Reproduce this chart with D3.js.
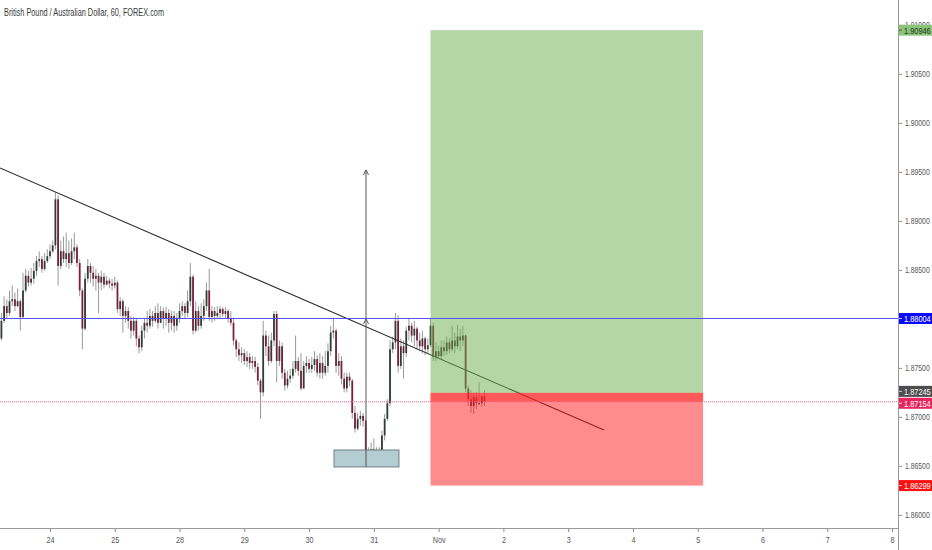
<!DOCTYPE html>
<html>
<head>
<meta charset="utf-8">
<script src="https://cdn.jsdelivr.net/npm/d3@7"></script>
<style>
  html, body { margin: 0; padding: 0; background: #fff; }
  svg { display: block; font-family: 'Liberation Sans', Arial, sans-serif; }
</style>
</head>
<body>
<svg id="chart" width="932" height="550"></svg>
<script>
// ---- data ----
const title = 'British Pound / Australian Dollar, 60, FOREX.com';
const dayLabels = ['24', '25', '28', '29', '30', '31', 'Nov', '2', '3', '4', '5', '6', '7', '8'];
const priceTicks = [1.86, 1.865, 1.87, 1.875, 1.88, 1.885, 1.89, 1.895, 1.9, 1.905, 1.91];

// hourly bars, first bar = Oct 23 05:00 (hours relative to Oct 24 00:00)
const firstBarHour = -19;
const firstOpen = 1.8788;
const closes = [
  1.8780, 1.8798, 1.8813, 1.8806, 1.8818, 1.8820, 1.8813, 1.8818, 1.8802, 1.8829,
  1.8844, 1.8837, 1.8841, 1.8849, 1.8859, 1.8861, 1.8851, 1.8859, 1.8864, 1.8869,
  1.8875, 1.8922, 1.8854, 1.8869, 1.8861, 1.8867, 1.8857, 1.8869, 1.8873, 1.8857,
  1.8829, 1.8790, 1.8841, 1.8854, 1.8847, 1.8841, 1.8844, 1.8837, 1.8843, 1.8835,
  1.8839, 1.8836, 1.8834, 1.8837, 1.8810, 1.8818, 1.8803, 1.8808, 1.8798, 1.8788,
  1.8798, 1.8780, 1.8771, 1.8788, 1.8796, 1.8793, 1.8803, 1.8798, 1.8806, 1.8796,
  1.8808, 1.8800, 1.8806, 1.8796, 1.8803, 1.8793, 1.8800, 1.8808, 1.8813, 1.8806,
  1.8818, 1.8843, 1.8788, 1.8808, 1.8793, 1.8803, 1.8813, 1.8829, 1.8802, 1.8808,
  1.8803, 1.8806, 1.8810, 1.8805, 1.8808, 1.8800, 1.8796, 1.8778, 1.8769, 1.8763,
  1.8765, 1.8757, 1.8761, 1.8755, 1.8757, 1.8751, 1.8737, 1.8725, 1.8783, 1.8772,
  1.8757, 1.8778, 1.8805, 1.8757, 1.8772, 1.8745, 1.8732, 1.8739, 1.8742, 1.8749,
  1.8757, 1.8747, 1.8729, 1.8752, 1.8755, 1.8749, 1.8753, 1.8759, 1.8745, 1.8755,
  1.8745, 1.8752, 1.8767, 1.8786, 1.8788, 1.8752, 1.8757, 1.8739, 1.8729, 1.8741,
  1.8737, 1.8704, 1.8688, 1.8698, 1.8701, 1.8696, 1.8665, 1.8657, 1.8667, 1.8663,
  1.8659, 1.8665, 1.8681, 1.8698, 1.8714, 1.8769, 1.8776, 1.8798, 1.8752, 1.8772,
  1.8765, 1.8788, 1.8793, 1.8783, 1.8790, 1.8778, 1.8772, 1.8780, 1.8769, 1.8773,
  1.8793, 1.8761, 1.8767, 1.8762, 1.8771, 1.8767, 1.8776, 1.8769, 1.8778, 1.8772,
  1.8782, 1.8778, 1.8783, 1.8729, 1.8718, 1.8711, 1.8720, 1.8714, 1.8714, 1.8721,
  1.87154,
];
const highs = [
  1.8800, 1.8806, 1.8823, 1.8820, 1.8829, 1.8834, 1.8827, 1.8831, 1.8820, 1.8847,
  1.8851, 1.8849, 1.8852, 1.8857, 1.8864, 1.8869, 1.8864, 1.8867, 1.8871, 1.8876,
  1.8880, 1.8929, 1.8926, 1.8880, 1.8884, 1.8888, 1.8880, 1.8882, 1.8888, 1.8876,
  1.8861, 1.8831, 1.8847, 1.8861, 1.8857, 1.8854, 1.8851, 1.8847, 1.8849, 1.8847,
  1.8844, 1.8842, 1.8841, 1.8843, 1.8839, 1.8822, 1.8820, 1.8813, 1.8812, 1.8803,
  1.8802, 1.8800, 1.8783, 1.8793, 1.8800, 1.8808, 1.8810, 1.8808, 1.8813, 1.8816,
  1.8813, 1.8812, 1.8812, 1.8810, 1.8808, 1.8808, 1.8806, 1.8816, 1.8818, 1.8816,
  1.8829, 1.8857, 1.8845, 1.8818, 1.8813, 1.8816, 1.8820, 1.8837, 1.8851, 1.8813,
  1.8812, 1.8813, 1.8813, 1.8812, 1.8812, 1.8810, 1.8808, 1.8800, 1.8780, 1.8776,
  1.8771, 1.8769, 1.8767, 1.8765, 1.8762, 1.8761, 1.8755, 1.8739, 1.8798, 1.8788,
  1.8783, 1.8786, 1.8808, 1.8808, 1.8778, 1.8776, 1.8749, 1.8747, 1.8749, 1.8757,
  1.8783, 1.8761, 1.8765, 1.8757, 1.8762, 1.8759, 1.8761, 1.8767, 1.8763, 1.8765,
  1.8762, 1.8767, 1.8775, 1.8793, 1.8800, 1.8790, 1.8765, 1.8762, 1.8745, 1.8745,
  1.8745, 1.8739, 1.8711, 1.8704, 1.8706, 1.8704, 1.8698, 1.8669, 1.8674, 1.8678,
  1.8669, 1.8669, 1.8686, 1.8703, 1.8718, 1.8778, 1.8782, 1.8806, 1.8804, 1.8780,
  1.8778, 1.8792, 1.8800, 1.8796, 1.8798, 1.8792, 1.8786, 1.8788, 1.8782, 1.8780,
  1.8800, 1.8796, 1.8776, 1.8773, 1.8778, 1.8778, 1.8782, 1.8780, 1.8793, 1.8786,
  1.8794, 1.8790, 1.8793, 1.8784, 1.8732, 1.8727, 1.8725, 1.8725, 1.8735, 1.8722,
  1.8727,
];
const lows = [
  1.8772, 1.8778, 1.8796, 1.8800, 1.8803, 1.8813, 1.8808, 1.8812, 1.8788, 1.8800,
  1.8827, 1.8833, 1.8834, 1.8836, 1.8844, 1.8853, 1.8847, 1.8849, 1.8857, 1.8861,
  1.8867, 1.8871, 1.8834, 1.8851, 1.8857, 1.8853, 1.8851, 1.8855, 1.8861, 1.8853,
  1.8823, 1.8769, 1.8788, 1.8837, 1.8837, 1.8833, 1.8829, 1.8806, 1.8829, 1.8831,
  1.8834, 1.8831, 1.8829, 1.8831, 1.8806, 1.8803, 1.8786, 1.8796, 1.8790, 1.8780,
  1.8783, 1.8772, 1.8765, 1.8767, 1.8780, 1.8786, 1.8790, 1.8792, 1.8796, 1.8790,
  1.8796, 1.8790, 1.8793, 1.8786, 1.8788, 1.8786, 1.8788, 1.8796, 1.8803, 1.8800,
  1.8802, 1.8813, 1.8784, 1.8786, 1.8788, 1.8790, 1.8798, 1.8808, 1.8798, 1.8796,
  1.8798, 1.8800, 1.8800, 1.8802, 1.8800, 1.8796, 1.8793, 1.8773, 1.8761, 1.8757,
  1.8755, 1.8753, 1.8751, 1.8749, 1.8749, 1.8745, 1.8732, 1.8698, 1.8721, 1.8762,
  1.8752, 1.8755, 1.8772, 1.8735, 1.8752, 1.8739, 1.8727, 1.8729, 1.8735, 1.8739,
  1.8745, 1.8742, 1.8727, 1.8729, 1.8745, 1.8745, 1.8745, 1.8747, 1.8741, 1.8739,
  1.8739, 1.8742, 1.8745, 1.8762, 1.8780, 1.8745, 1.8742, 1.8733, 1.8725, 1.8725,
  1.8731, 1.8698, 1.8684, 1.8686, 1.8691, 1.8690, 1.8659, 1.8653, 1.8655, 1.8657,
  1.8651, 1.8653, 1.8660, 1.8676, 1.8696, 1.8711, 1.8765, 1.8769, 1.8745, 1.8749,
  1.8739, 1.8761, 1.8778, 1.8776, 1.8772, 1.8769, 1.8767, 1.8765, 1.8763, 1.8765,
  1.8771, 1.8757, 1.8757, 1.8759, 1.8759, 1.8762, 1.8763, 1.8765, 1.8767, 1.8765,
  1.8769, 1.8767, 1.8772, 1.8725, 1.8711, 1.8704, 1.8703, 1.8708, 1.8712, 1.8710,
  1.8711,
];

// drawings (time in days from Oct 24 00:00, prices)
const resistance = 1.88004;
const lastPrice = 1.87154;
const position = { start: 5.875, end: 10.083, entry: 1.87245, target: 1.90946, stop: 1.86299 };
const trendLine = [[-0.772, 1.8954], [8.553, 1.86866]];
const arrowLine = { t: 4.879, from: 1.8649, to: 1.8952, mid: 1.8800 };
const zone = { t0: 4.385, t1: 5.388, top: 1.86662, bottom: 1.86489 };
const axisPrices = [position.target, resistance, position.entry, lastPrice, position.stop];

// ---- chart ----
const W = 932;
const H = 550;
const plotW = 898;
const plotH = 528;
const fmt = d3.format('.5f');

const x = d3.scaleLinear().domain([0, dayLabels.length - 1]).range([50, 892]);
const y = d3.scaleLinear().domain([1.85866, 1.91254]).range([plotH, 0]);
const barW = (x(1) - x(0)) / 24;

const bars = closes.map((c, i) => ({
  t: (firstBarHour + i) / 24,
  o: i ? closes[i - 1] : firstOpen,
  h: highs[i],
  l: lows[i],
  c,
}));

const svg = d3.select('#chart');

svg.append('defs')
  .append('clipPath')
  .attr('id', 'plot-clip')
  .append('rect')
  .attr('width', plotW)
  .attr('height', plotH);

const plot = svg.append('g').attr('clip-path', 'url(#plot-clip)');

// candles
const candle = plot.append('g')
  .selectAll('g')
  .data(bars)
  .join('g');

candle.append('line')
  .attr('x1', (d) => x(d.t))
  .attr('x2', (d) => x(d.t))
  .attr('y1', (d) => y(d.h))
  .attr('y2', (d) => y(d.l))
  .attr('stroke', '#9a9a9a')
  .attr('stroke-width', 1);

candle.append('rect')
  .attr('x', (d) => x(d.t) - barW * 0.33)
  .attr('width', barW * 0.66)
  .attr('y', (d) => y(Math.max(d.o, d.c)))
  .attr('height', (d) => Math.max(1, Math.abs(y(d.o) - y(d.c))))
  .attr('fill', (d) => (d.c >= d.o ? '#2f3d33' : '#7a1d3f'));

// trend line
plot.append('line')
  .attr('x1', x(trendLine[0][0]))
  .attr('y1', y(trendLine[0][1]))
  .attr('x2', x(trendLine[1][0]))
  .attr('y2', y(trendLine[1][1]))
  .attr('stroke', '#2b2b2b')
  .attr('stroke-width', 1.1);

// long position box
const boxX = x(position.start);
const boxW = x(position.end) - x(position.start);

plot.append('rect')
  .attr('x', boxX)
  .attr('width', boxW)
  .attr('y', y(position.target))
  .attr('height', y(position.entry) - y(position.target))
  .attr('fill', 'rgb(104,173,73)')
  .attr('fill-opacity', 0.5);

plot.append('rect')
  .attr('x', boxX)
  .attr('width', boxW)
  .attr('y', y(position.entry))
  .attr('height', y(position.stop) - y(position.entry))
  .attr('fill', 'rgb(255,26,26)')
  .attr('fill-opacity', 0.5);

plot.append('rect')
  .attr('x', boxX)
  .attr('width', boxW)
  .attr('y', y(position.entry))
  .attr('height', y(lastPrice) - y(position.entry))
  .attr('fill', 'rgb(255,40,40)')
  .attr('fill-opacity', 0.5);

// support zone
plot.append('rect')
  .attr('x', x(zone.t0))
  .attr('width', x(zone.t1) - x(zone.t0))
  .attr('y', y(zone.top))
  .attr('height', y(zone.bottom) - y(zone.top))
  .attr('fill', '#b4cdd2')
  .attr('stroke', '#6f7f82')
  .attr('stroke-width', 1);

// arrow
const ax = x(arrowLine.t);
plot.append('line')
  .attr('x1', ax)
  .attr('x2', ax)
  .attr('y1', y(arrowLine.from))
  .attr('y2', y(arrowLine.to))
  .attr('stroke', '#555')
  .attr('stroke-width', 1);

[arrowLine.to, arrowLine.mid].forEach((p) => {
  const ty = y(p);
  plot.append('path')
    .attr('d', `M${ax - 2.5},${ty + 5}L${ax},${ty}L${ax + 2.5},${ty + 5}`)
    .attr('fill', 'none')
    .attr('stroke', '#555')
    .attr('stroke-width', 1);
});

// horizontal lines
plot.append('line')
  .attr('x1', 0)
  .attr('x2', plotW)
  .attr('y1', y(resistance))
  .attr('y2', y(resistance))
  .attr('stroke', '#5050ff')
  .attr('stroke-width', 1);

plot.append('line')
  .attr('x1', 0)
  .attr('x2', plotW)
  .attr('y1', y(lastPrice))
  .attr('y2', y(lastPrice))
  .attr('stroke', '#ef5d86')
  .attr('stroke-width', 1)
  .attr('stroke-dasharray', '1,1');

// axes
const yAxis = svg.append('g')
  .attr('transform', `translate(${plotW},0)`)
  .call(d3.axisRight(y).tickValues(priceTicks).tickFormat(fmt).tickSize(4));

const xAxis = svg.append('g')
  .attr('transform', `translate(0,${plotH})`)
  .call(d3.axisBottom(x).tickValues(d3.range(dayLabels.length)).tickFormat((i) => dayLabels[i]).tickSize(4).tickPadding(5));

[yAxis, xAxis].forEach((g) => {
  g.select('.domain').remove();
  g.selectAll('line').attr('stroke', '#8a8a8a');
  g.selectAll('text')
    .attr('fill', '#555')
    .attr('font-size', 9)
    .attr('font-family', null);
});

// condensed look of the platform font
yAxis.selectAll('text')
  .attr('x', 0)
  .attr('transform', 'translate(7,0) scale(0.76,1)');

xAxis.selectAll('text')
  .attr('transform', 'scale(0.8,1)');

svg.append('line')
  .attr('x1', plotW + 0.5)
  .attr('x2', plotW + 0.5)
  .attr('y1', 0)
  .attr('y2', H)
  .attr('stroke', '#9a9a9a');

svg.append('line')
  .attr('x1', 0)
  .attr('x2', plotW)
  .attr('y1', plotH + 0.5)
  .attr('y2', plotH + 0.5)
  .attr('stroke', '#9a9a9a');

// price labels (entry / last price pair pushed apart like the platform does)
const labelColors = ['#8cc47c', '#0a0aff', '#4d4d4d', '#e9245e', '#ff1010'];
const labelText = ['#1c3417', '#fff', '#fff', '#fff', '#fff'];
const labelNudge = [0, 0, -1.5, 1.5, 0];
const labelH = 11;

const label = svg.append('g')
  .selectAll('g')
  .data(axisPrices)
  .join('g')
  .attr('transform', (d, i) => `translate(${plotW + 1},${y(d) + labelNudge[i]})`);

label.append('rect')
  .attr('x', 0)
  .attr('y', -labelH / 2)
  .attr('width', W - plotW - 1)
  .attr('height', labelH)
  .attr('fill', (d, i) => labelColors[i]);

label.append('line')
  .attr('x1', 0)
  .attr('x2', 3)
  .attr('stroke', (d, i) => labelText[i])
  .attr('stroke-opacity', 0.7);

label.append('text')
  .attr('dy', '0.35em')
  .attr('font-size', 9.5)
  .attr('transform', 'translate(5,0) scale(0.78,1)')
  .attr('fill', (d, i) => labelText[i])
  .text((d) => fmt(d));

// title
svg.append('text')
  .attr('x', 4)
  .attr('y', 16)
  .attr('font-size', 10.5)
  .attr('fill', '#3a3a3a')
  .attr('textLength', 160)
  .attr('lengthAdjust', 'spacingAndGlyphs')
  .text(title);
</script>
</body>
</html>
